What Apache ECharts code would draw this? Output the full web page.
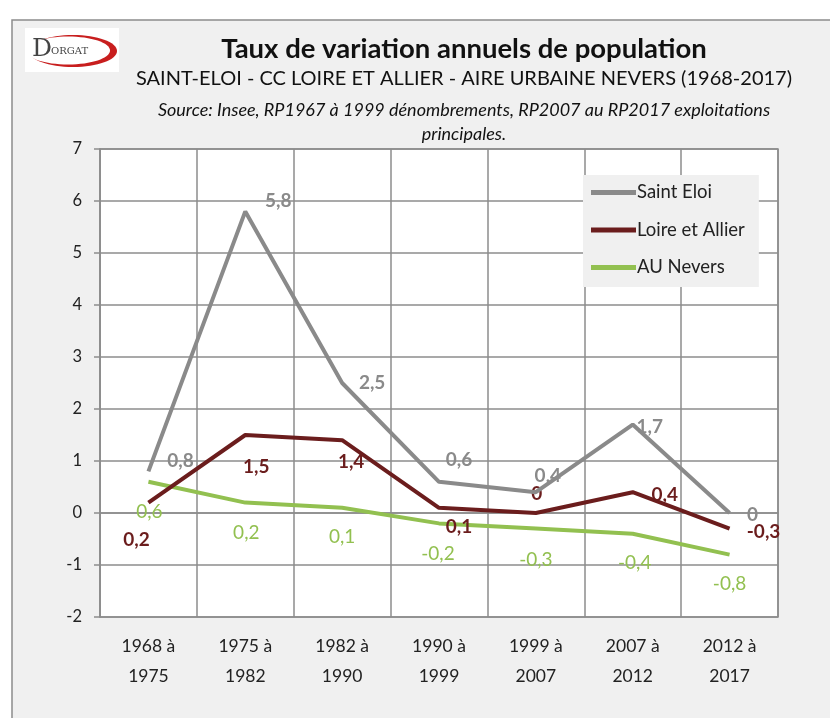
<!DOCTYPE html>
<html>
<head>
<meta charset="utf-8">
<script src="https://cdn.jsdelivr.net/npm/echarts@6/dist/echarts.min.js"></script>
<style>
  html, body { margin: 0; padding: 0; background: #fff; }
  #chart { width: 830px; height: 718px; }
</style>
</head>
<body>
<div id="chart"></div>
<script>
// periods
var categories = ['1968 à\n1975', '1975 à\n1982', '1982 à\n1990', '1990 à\n1999', '1999 à\n2007', '2007 à\n2012', '2012 à\n2017']
var saintEloi = [0.8, 5.8, 2.5, 0.6, 0.4, 1.7, 0]
var loireAllier = [0.2, 1.5, 1.4, 0.1, 0, 0.4, -0.3]
var auNevers = [0.6, 0.2, 0.1, -0.2, -0.3, -0.4, -0.8]

var FONT = 'Lato, "Open Sans", sans-serif'

function fmt (v) {
  return String(v).replace('.', ',')
}

// label offsets per point (pixels), picked by eye
var eloiOffsets = [[32, -11], [33, -11], [30, 0], [20, -22], [12, -16], [17, 2], [23, 2]]
var loireOffsets = [[-12, 37], [11, 32], [9, 22], [20, 19], [1, -19], [32, 3], [34, 3]]
var neversOffsets = [[1, 30], [1, 30], [0, 29], [-1, 30], [0, 31], [2, 29], [0, 29]]

function withLabels (values, offsets, base) {
  return values.map(function (v, i) {
    return {
      value: v,
      label: Object.assign({}, base, { offset: offsets[i] })
    }
  })
}

function labelBase (color, bold) {
  return {
    show: true,
    position: 'inside',
    fontFamily: FONT,
    fontSize: 19,
    fontWeight: bold ? 'bold' : 'normal',
    color: color,
    formatter: function (p) { return fmt(p.value) }
  }
}

var chart = echarts.init(document.getElementById('chart'))

chart.setOption({
  backgroundColor: '#fff',
  animation: false,
  graphic: [
    {
      type: 'rect',
      shape: { x: 12, y: 20, width: 840, height: 720 },
      style: { fill: '#f0f0f0', stroke: '#8c8c8c', lineWidth: 1.5 },
      z: -10
    },
    // logo
    {
      type: 'rect',
      shape: { x: 25, y: 28, width: 94, height: 44 },
      style: { fill: '#fff' },
      z: -5
    },
    {
      type: 'ellipse',
      shape: { cx: 73, cy: 51, rx: 44, ry: 16 },
      style: { fill: '#c81e1e' },
      z: -4
    },
    {
      type: 'ellipse',
      shape: { cx: 68, cy: 50.5, rx: 42, ry: 14 },
      style: { fill: '#fff' },
      z: -3
    },
    {
      type: 'text',
      left: 32,
      top: 37,
      style: { text: 'D', font: '25px "DejaVu Serif", serif', fill: '#444' }
    },
    {
      type: 'text',
      left: 51,
      top: 46,
      style: { text: 'ORGAT', font: '10px "DejaVu Serif", serif', fill: '#444' }
    }
  ],
  title: [
    {
      text: 'Taux de variation annuels de population',
      left: 459,
      top: 30,
      textAlign: 'center',
      textStyle: { fontFamily: FONT, fontSize: 27.5, fontWeight: 'bold', color: '#111' }
    },
    {
      text: 'SAINT-ELOI - CC LOIRE ET ALLIER - AIRE URBAINE NEVERS (1968-2017)',
      left: 459,
      top: 64,
      textAlign: 'center',
      textStyle: { fontFamily: FONT, fontSize: 20, fontWeight: 'normal', color: '#111' }
    },
    {
      text: 'Source: Insee, RP1967 à 1999 dénombrements, RP2007 au RP2017 exploitations\nprincipales.',
      left: 459,
      top: 93,
      textAlign: 'center',
      textStyle: { fontFamily: FONT, fontSize: 18, fontStyle: 'italic', fontWeight: 'normal', color: '#111', lineHeight: 24 }
    }
  ],
  legend: {
    orient: 'vertical',
    left: 583,
    top: 175,
    itemWidth: 45,
    itemHeight: 5,
    itemGap: 18.5,
    padding: [8, 14, 10, 8],
    backgroundColor: '#f0f0f0',
    textStyle: { fontFamily: FONT, fontSize: 18.5, color: '#222', padding: [0, 0, 0, -4] },
    icon: 'rect',
    data: ['Saint Eloi', 'Loire et Allier', 'AU Nevers']
  },
  grid: {
    left: 100,
    right: 52,
    top: 149,
    bottom: 101,
    show: true,
    backgroundColor: '#fff',
    borderColor: '#8c8c8c',
    borderWidth: 1.5
  },
  xAxis: {
    type: 'category',
    data: categories,
    boundaryGap: true,
    axisLine: { lineStyle: { color: '#8c8c8c', width: 1.5 } },
    axisTick: { show: false },
    splitLine: { show: true, lineStyle: { color: '#8c8c8c', width: 1.5 } },
    axisLabel: { fontFamily: FONT, fontSize: 17.5, color: '#222', lineHeight: 30, margin: 14 }
  },
  yAxis: {
    type: 'value',
    min: -2,
    max: 7,
    interval: 1,
    axisLine: { show: true, lineStyle: { color: '#8c8c8c', width: 1.5 } },
    axisTick: { show: true, length: 6, lineStyle: { color: '#8c8c8c', width: 1.5 } },
    splitLine: { lineStyle: { color: '#8c8c8c', width: 1.5 } },
    axisLabel: { fontFamily: FONT, fontSize: 16.5, color: '#222', margin: 18 }
  },
  series: [
    {
      name: 'Saint Eloi',
      type: 'line',
      symbol: 'circle',
      symbolSize: 0.01,
      showSymbol: true,
      color: '#8a8a8a',
      lineStyle: { width: 4, color: '#8a8a8a' },
      data: withLabels(saintEloi, eloiOffsets, labelBase('#8a8a8a', true)),
      z: 3
    },
    {
      name: 'Loire et Allier',
      type: 'line',
      symbol: 'circle',
      symbolSize: 0.01,
      showSymbol: true,
      color: '#6b1d1d',
      lineStyle: { width: 4, color: '#6b1d1d' },
      data: withLabels(loireAllier, loireOffsets, labelBase('#6b1d1d', true)),
      z: 2
    },
    {
      name: 'AU Nevers',
      type: 'line',
      symbol: 'circle',
      symbolSize: 0.01,
      showSymbol: true,
      color: '#92c050',
      lineStyle: { width: 4, color: '#92c050' },
      data: withLabels(auNevers, neversOffsets, labelBase('#92c050', false)),
      z: 1
    }
  ]
})
</script>
</body>
</html>
